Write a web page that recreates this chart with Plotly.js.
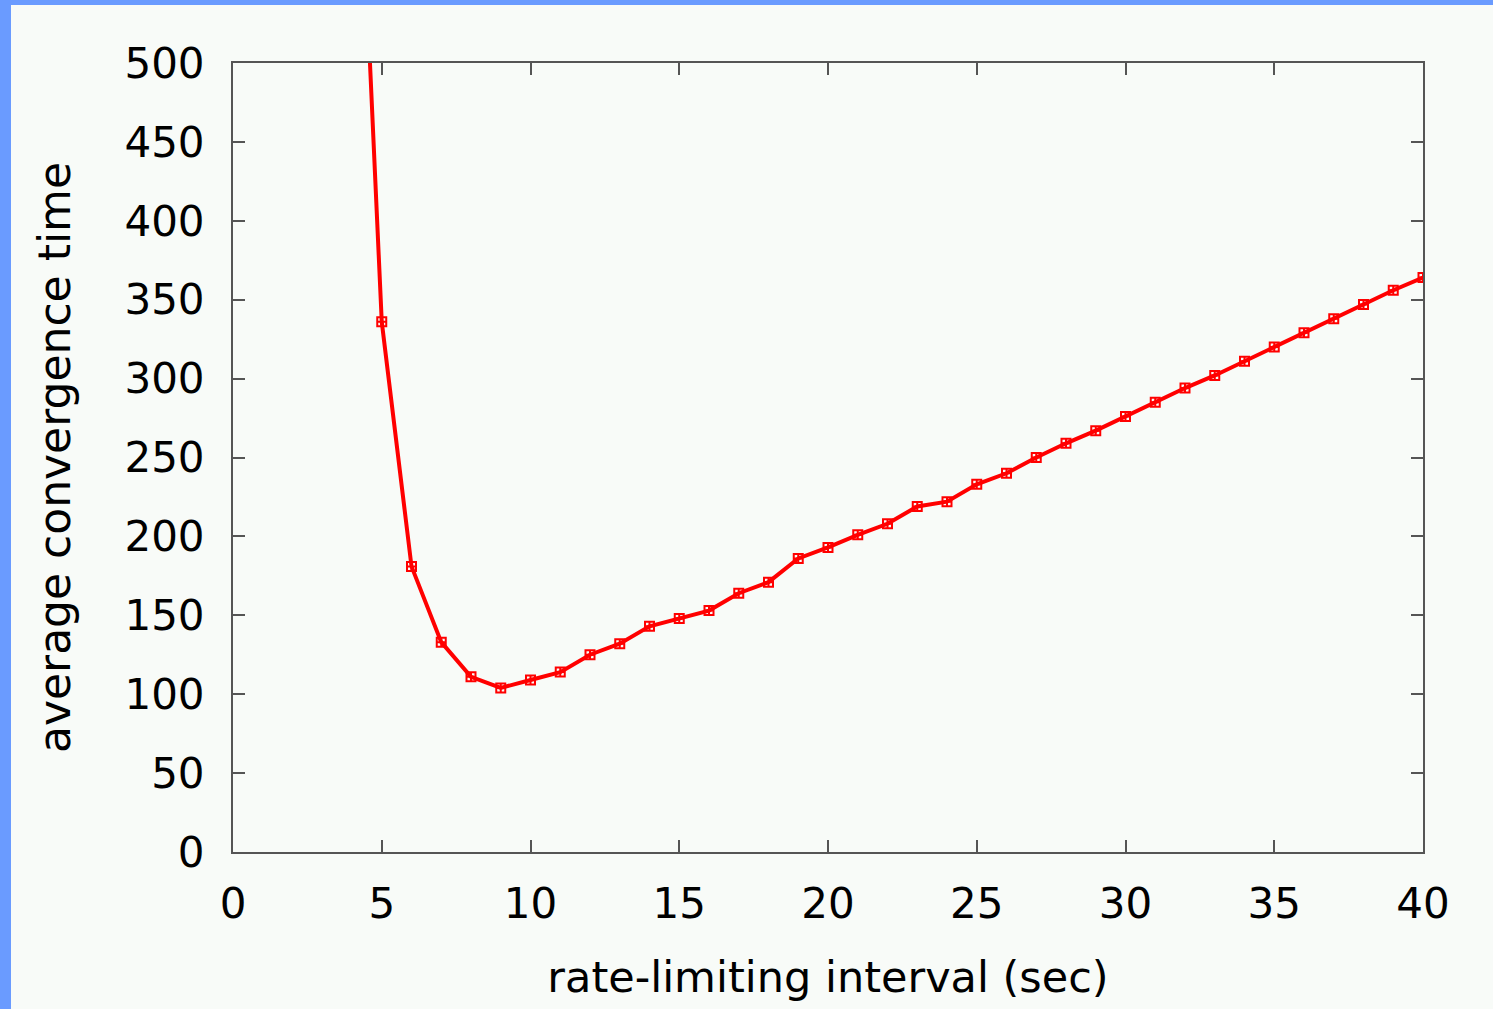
<!DOCTYPE html>
<html>
<head>
<meta charset="utf-8">
<script src="https://cdn.plot.ly/plotly-3.0.1.min.js"></script>
<style>
html,body{margin:0;padding:0;background:#6a9bff;width:1493px;height:1009px;overflow:hidden;}
#chart{position:absolute;left:11px;top:5px;width:1482px;height:1004px;}
</style>
</head>
<body>
<div id="chart"></div>
<script>
const intervals = [4,5,6,7,8,9,10,11,12,13,14,15,16,17,18,19,20,21,22,23,24,25,26,27,28,29,30,31,32,33,34,35,36,37,38,39,40];
const convergence = [750,336,181,133,111,104,109,114,125,132,143,148,153,164,171,186,193,201,208,219,222,233,240,250,259,267,276,285,294,302,311,320,329,338,347,356,364];
const xTicks = [0,5,10,15,20,25,30,35,40];
const yTicks = [0,50,100,150,200,250,300,350,400,450,500];

const FONT = 'DejaVu Sans, Verdana, sans-serif';
const trace = {
  x: intervals, y: convergence, type: 'scatter', mode: 'lines+markers',
  line: {color: '#ff0000', width: 4},
  marker: {symbol: 'square-cross-open', size: 9, color: '#ff0000', line: {width: 2, color: '#ff0000'}},
  cliponaxis: true, hoverinfo: 'x+y'
};
const axisCommon = {
  showgrid: false, zeroline: false, showline: true, mirror: 'ticks',
  linecolor: '#555555', linewidth: 2, ticks: 'inside', ticklen: 12, tickwidth: 2, tickcolor: '#555555',
  tickfont: {family: FONT, size: 42, color: '#000'}
};
const layout = {
  width: 1482, height: 1004,
  margin: {l: 222, r: 70, t: 58, b: 157},
  paper_bgcolor: '#f8fbf8', plot_bgcolor: '#f8fbf8',
  showlegend: false,
  xaxis: Object.assign({}, axisCommon, {
    range: [0, 40], tickvals: xTicks, ticktext: xTicks.map(String), ticklabelstandoff: 14,
    title: {text: 'rate-limiting interval (sec)', font: {family: FONT, size: 43, color: '#000'}, standoff: 34}
  }),
  yaxis: Object.assign({}, axisCommon, {
    range: [0, 500], tickvals: yTicks, ticktext: yTicks.map(String), ticklabelstandoff: 18,
    title: {text: 'average convergence time', font: {family: FONT, size: 44, color: '#000'}, standoff: 40}
  })
};
Plotly.newPlot('chart', [trace], layout, {displayModeBar: false, staticPlot: true});
</script>
</body>
</html>
